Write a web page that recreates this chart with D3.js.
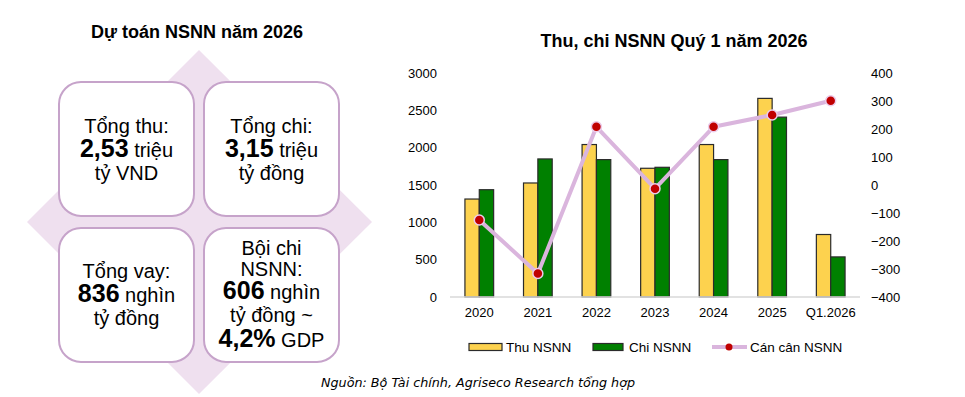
<!DOCTYPE html>
<html>
<head>
<meta charset="utf-8">
<script src="https://cdn.jsdelivr.net/npm/d3@7"></script>
<style>
  body { margin: 0; background: #fff; }
  svg { display: block; font-family: "Liberation Sans", Arial, sans-serif; }
</style>
</head>
<body>
<div id="chart"></div>
<script>
// Data
const categories = ['2020', '2021', '2022', '2023', '2024', '2025', 'Q1.2026'];
const thuValues = [1312, 1527, 2042, 1724, 2042, 2660, 837];
const chiValues = [1437, 1849, 1840, 1737, 1840, 2409, 537];
const canCanValues = [-125, -316, 208, -13, 208, 250, 301];
const leftTicks = [0, 500, 1000, 1500, 2000, 2500, 3000];
const rightTicks = [-400, -300, -200, -100, 0, 100, 200, 300, 400];

// Left panel boxes (lines of [bold part, regular part])
const boxLines = [
  [['', 'Tổng thu:'], ['2,53', ' triệu'], ['', 'tỷ VND']],
  [['', 'Tổng chi:'], ['3,15', ' triệu'], ['', 'tỷ đồng']],
  [['', 'Tổng vay:'], ['836', ' nghìn'], ['', 'tỷ đồng']],
  [['', 'Bội chi'], ['', 'NSNN:'], ['606', ' nghìn'], ['', 'tỷ đồng ~'], ['4,2%', ' GDP']],
];

const width = 965;
const height = 397;

const svg = d3.select('#chart').append('svg')
  .attr('width', width)
  .attr('height', height);

// ---------- left panel ----------
const panel = svg.append('g');

panel.append('text')
  .attr('x', 197)
  .attr('y', 38)
  .attr('text-anchor', 'middle')
  .attr('font-size', 18)
  .attr('font-weight', 'bold')
  .text('Dự toán NSNN năm 2026');

// background diamond
panel.append('path')
  .attr('d', 'M199,50 L372,222 L199,394 L27,222 Z')
  .attr('fill', '#efe0ef');

const boxes = [
  { x: 59, y: 82, lines: boxLines[0], baselines: [133, 157, 180] },
  { x: 204, y: 82, lines: boxLines[1], baselines: [133, 157, 180] },
  { x: 59, y: 228, lines: boxLines[2], baselines: [278, 302, 325] },
  { x: 204, y: 228, lines: boxLines[3], baselines: [255, 276, 299, 322, 347] },
];
const boxW = 135;
const boxH = 134;

boxes.forEach((b) => {
  panel.append('rect')
    .attr('x', b.x)
    .attr('y', b.y)
    .attr('width', boxW)
    .attr('height', boxH)
    .attr('rx', 22)
    .attr('fill', '#fff')
    .attr('stroke', '#c6a3ca')
    .attr('stroke-width', 2);

  b.lines.forEach((line, i) => {
    const t = panel.append('text')
      .attr('x', b.x + boxW / 2)
      .attr('y', b.baselines[i])
      .attr('text-anchor', 'middle')
      .attr('font-size', 20);
    if (line[0]) {
      t.append('tspan')
        .attr('font-weight', 'bold')
        .attr('font-size', 25)
        .text(line[0]);
    }
    t.append('tspan').text(line[1]);
  });
});

// ---------- right chart ----------
const plot = { left: 450, right: 860, top: 73, bottom: 297 };

svg.append('text')
  .attr('x', 674)
  .attr('y', 47)
  .attr('text-anchor', 'middle')
  .attr('font-size', 18)
  .attr('font-weight', 'bold')
  .text('Thu, chi NSNN Quý 1 năm 2026');

const xScale = d3.scaleBand()
  .domain(categories)
  .range([plot.left, plot.right])
  .padding(0);

const step = xScale.bandwidth();
const xSub = d3.scaleBand()
  .domain(['thu', 'chi'])
  .range([step * 0.255, step * 0.745])
  .padding(0);

const yLeft = d3.scaleLinear()
  .domain([0, 3000])
  .range([plot.bottom, plot.top]);

const yRight = d3.scaleLinear()
  .domain([-400, 400])
  .range([plot.bottom, plot.top]);

// axes
const yLeftAxis = d3.axisLeft(yLeft).tickValues(leftTicks).tickFormat(d3.format('d'))
  .tickSize(0).tickPadding(0);
const yRightAxis = d3.axisRight(yRight).tickValues(rightTicks).tickFormat(d3.format('d'))
  .tickSize(0).tickPadding(0);
const xAxis = d3.axisBottom(xScale).tickSize(0).tickPadding(0);

const styleAxis = (g) => {
  g.select('.domain').remove();
  g.attr('font-family', '"Liberation Sans", Arial, sans-serif')
    .attr('font-size', 13);
  g.selectAll('text').attr('fill', '#000');
};

svg.append('g')
  .attr('transform', 'translate(437,0)')
  .call(yLeftAxis)
  .call(styleAxis);

svg.append('g')
  .attr('transform', 'translate(871,0)')
  .call(yRightAxis)
  .call(styleAxis);

svg.append('g')
  .attr('transform', `translate(0,${plot.bottom + 11})`)
  .call(xAxis)
  .call(styleAxis);

// bars
const barData = categories.map((c, i) => ({ cat: c, thu: thuValues[i], chi: chiValues[i] }));
const colors = { thu: '#fdd24e', chi: '#008000' };

const groups = svg.append('g')
  .selectAll('g')
  .data(barData)
  .join('g')
  .attr('transform', (d) => `translate(${xScale(d.cat)},0)`);

groups.selectAll('rect')
  .data((d) => ['thu', 'chi'].map((k) => ({ key: k, value: d[k] })))
  .join('rect')
  .attr('x', (d) => xSub(d.key))
  .attr('y', (d) => yLeft(d.value))
  .attr('width', xSub.bandwidth())
  .attr('height', (d) => yLeft(0) - yLeft(d.value))
  .attr('fill', (d) => colors[d.key])
  .attr('stroke', '#2b2b2b')
  .attr('stroke-width', 1.2);

// baseline
svg.append('line')
  .attr('x1', plot.left)
  .attr('x2', plot.right)
  .attr('y1', plot.bottom)
  .attr('y2', plot.bottom)
  .attr('stroke', '#d9d9d9')
  .attr('stroke-width', 1.5);

// balance line
const lineData = categories.map((c, i) => ({ cat: c, value: canCanValues[i] }));
const line = d3.line()
  .x((d) => xScale(d.cat) + step / 2)
  .y((d) => yRight(d.value));

svg.append('path')
  .datum(lineData)
  .attr('d', line)
  .attr('fill', 'none')
  .attr('stroke', '#dab5dd')
  .attr('stroke-width', 4)
  .attr('stroke-linejoin', 'round');

svg.append('g')
  .selectAll('circle')
  .data(lineData)
  .join('circle')
  .attr('cx', (d) => xScale(d.cat) + step / 2)
  .attr('cy', (d) => yRight(d.value))
  .attr('r', 5)
  .attr('fill', '#c00000')
  .attr('stroke', '#eccdec')
  .attr('stroke-width', 1.5);

// legend
const legend = svg.append('g');
const legendY = 347;

legend.append('rect')
  .attr('x', 469).attr('y', legendY - 3.5)
  .attr('width', 33).attr('height', 7)
  .attr('fill', colors.thu).attr('stroke', '#2b2b2b').attr('stroke-width', 1.2);
legend.append('text')
  .attr('x', 506).attr('y', legendY + 5)
  .attr('font-size', 13.5)
  .text('Thu NSNN');

legend.append('rect')
  .attr('x', 593).attr('y', legendY - 3.5)
  .attr('width', 30).attr('height', 7)
  .attr('fill', colors.chi).attr('stroke', '#2b2b2b').attr('stroke-width', 1.2);
legend.append('text')
  .attr('x', 629).attr('y', legendY + 5)
  .attr('font-size', 13.5)
  .text('Chi NSNN');

legend.append('line')
  .attr('x1', 712).attr('x2', 747)
  .attr('y1', legendY).attr('y2', legendY)
  .attr('stroke', '#dab5dd').attr('stroke-width', 4);
legend.append('circle')
  .attr('cx', 729).attr('cy', legendY).attr('r', 3.5)
  .attr('fill', '#c00000');
legend.append('text')
  .attr('x', 750).attr('y', legendY + 5)
  .attr('font-size', 13.5)
  .text('Cán cân NSNN');

// source
svg.append('text')
  .attr('x', 321)
  .attr('y', 387)
  .attr('font-family', '"DejaVu Sans", Verdana, sans-serif')
  .attr('font-style', 'italic')
  .attr('font-size', 12)
  .attr('textLength', 314)
  .attr('lengthAdjust', 'spacingAndGlyphs')
  .text('Nguồn: Bộ Tài chính, Agriseco Research tổng hợp');
</script>
</body>
</html>
